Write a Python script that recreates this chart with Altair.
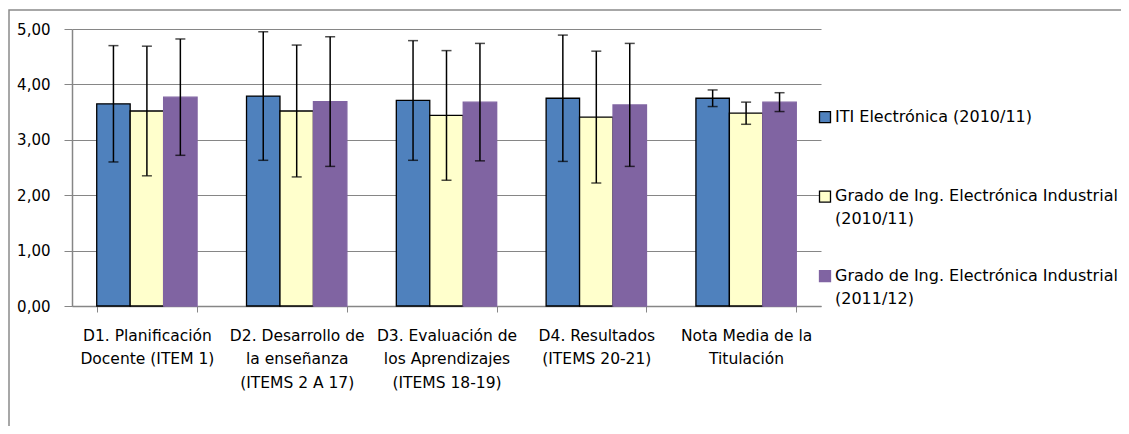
import altair as alt
import pandas as pd

categorias = [
    ["D1. Planificación", "Docente (ITEM 1)"],
    ["D2. Desarrollo de", "la enseñanza", "(ITEMS 2 A 17)"],
    ["D3. Evaluación de", "los Aprendizajes", "(ITEMS 18-19)"],
    ["D4. Resultados", "(ITEMS 20-21)"],
    ["Nota Media de la", "Titulación"],
]
series = [
    "ITI Electrónica (2010/11)",
    "Grado de Ing. Electrónica Industrial (2010/11)",
    "Grado de Ing. Electrónica Industrial (2011/12)",
]
medias_iti = [3.65, 3.79, 3.71, 3.75, 3.75]
medias_g1011 = [3.52, 3.52, 3.44, 3.41, 3.48]
medias_g1112 = [3.77, 3.69, 3.68, 3.63, 3.68]
desv_iti = [1.05, 1.16, 1.08, 1.14, 0.15]
desv_g1011 = [1.17, 1.19, 1.17, 1.19, 0.20]
desv_g1112 = [1.05, 1.17, 1.06, 1.11, 0.17]
colores = ["#4F81BD", "#FFFFCC", "#8064A2"]
bordes = ["#000000", "#000000", "#8064A2"]

cats = ["\n".join(c) for c in categorias]
rows = []
for s, med, dev in zip(series, [medias_iti, medias_g1011, medias_g1112],
                       [desv_iti, desv_g1011, desv_g1112]):
    for c, m, d in zip(cats, med, dev):
        rows.append({"cat": c, "serie": s, "valor": m, "lo": m - d, "hi": m + d})
df = pd.DataFrame(rows)

leg_expr = ("indexof(datum.label, 'Grado') == 0 ? "
            "[substring(datum.label, 0, 36), substring(datum.label, 37)] : [datum.label, '']")

x_enc = alt.X(
    "cat:N", sort=cats, title=None,
    scale=alt.Scale(paddingInner=0.33, paddingOuter=0.165),
    axis=alt.Axis(
        labelExpr="split(datum.label, '\\n')", labelAngle=0,
        labelFont="DejaVu Sans", labelFontSize=15.5, labelLineHeight=23.5,
        labelColor="#000000", labelPadding=16, labelLimit=300,
        tickBand="extent", tickSize=6, tickColor="#868686", tickWidth=1,
        domainColor="#868686", domainWidth=1.5, grid=False,
    ),
)
xo_enc = alt.XOffset("serie:N", sort=series, scale=alt.Scale(paddingInner=0, paddingOuter=0))

base = alt.Chart(df)

bars = base.mark_bar(strokeWidth=1.3).encode(
    x=x_enc,
    xOffset=xo_enc,
    y=alt.Y(
        "valor:Q", title=None,
        scale=alt.Scale(domain=[0, 5], nice=False),
        axis=alt.Axis(
            values=[0, 1, 2, 3, 4, 5],
            labelExpr="replace(format(datum.value, '.2f'), '.', ',')",
            labelFont="DejaVu Sans", labelFontSize=15, labelColor="#000000",
            labelPadding=14, tickSize=8, tickColor="#868686", tickWidth=1,
            domainColor="#868686", domainWidth=1.5,
            grid=True, gridColor="#868686", gridWidth=1.2,
        ),
    ),
    fill=alt.Fill(
        "serie:N", sort=series,
        scale=alt.Scale(domain=series, range=colores),
        legend=alt.Legend(title=None, labelExpr=leg_expr),
    ),
    stroke=alt.Stroke(
        "serie:N", sort=series,
        scale=alt.Scale(domain=series, range=bordes),
        legend=alt.Legend(title=None, labelExpr=leg_expr),
    ),
)

rule = base.mark_rule(color="#000000", strokeWidth=1.5).encode(
    x=x_enc, xOffset=xo_enc, y="lo:Q", y2="hi:Q"
)
cap_hi = base.mark_tick(color="#000000", thickness=1.5, size=10, orient="horizontal").encode(
    x=x_enc, xOffset=xo_enc, y="hi:Q"
)
cap_lo = base.mark_tick(color="#000000", thickness=1.5, size=10, orient="horizontal").encode(
    x=x_enc, xOffset=xo_enc, y="lo:Q"
)

borde = alt.Chart(alt.Data(values=[{}])).mark_rect(
    fillOpacity=0, stroke="#8a8a8a", strokeWidth=1.5
).encode(
    x=alt.value(-63), x2=alt.value(1300), y=alt.value(-19), y2=alt.value(600)
)

chart = alt.layer(borde, bars, rule, cap_hi, cap_lo).properties(
    width=749, height=277,
    autosize=alt.AutoSizeParams(type="none"),
    padding={"left": 64, "top": 21, "right": 300, "bottom": 120},
).configure(
    style={"guide-label": {"lineHeight": 23}}
).configure_view(strokeWidth=0).configure_legend(
    orient="none", legendX=745, legendY=71.5, padding=0,
    symbolType="M-1,0.55H1V2.55H-1Z", symbolSize=121, symbolStrokeWidth=1.3,
    labelFont="DejaVu Sans", labelFontSize=16, labelColor="#000000",
    labelBaseline="top", labelOffset=2, labelLimit=400, rowPadding=32.5,
)

chart.save("out.html", embed_options={"renderer": "svg", "actions": False})
